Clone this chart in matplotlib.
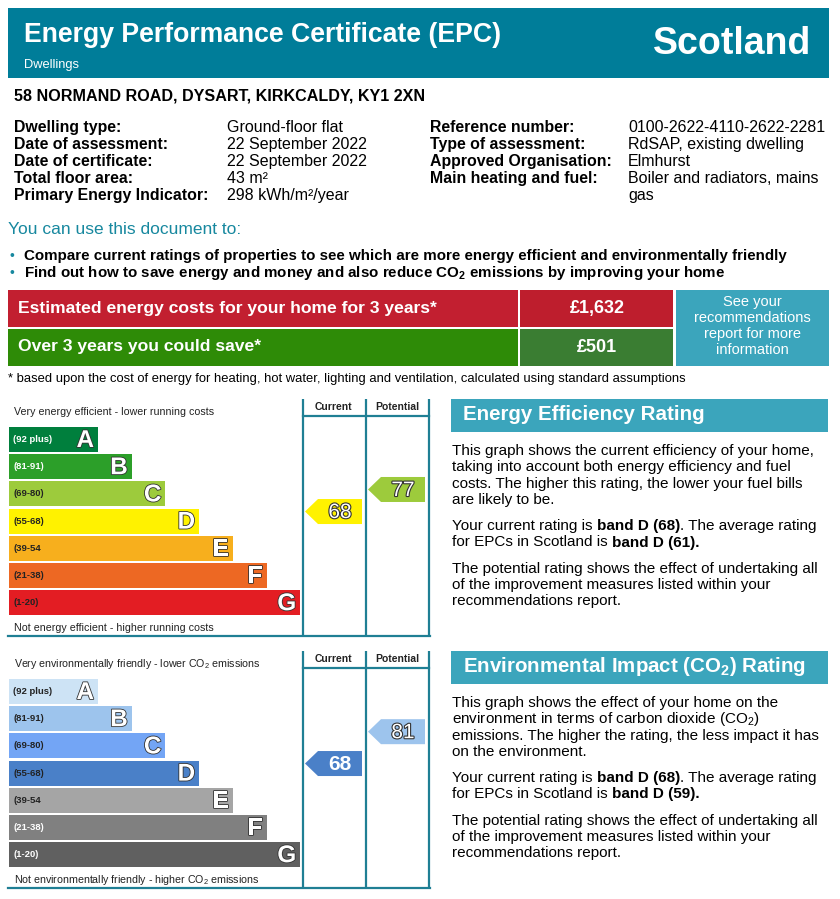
import matplotlib
matplotlib.use('Agg')
import matplotlib.pyplot as plt
from matplotlib.patches import Rectangle, Polygon
import matplotlib.patheffects as pe
from matplotlib import rcParams

rcParams['mathtext.fontset'] = 'custom'
rcParams['mathtext.rm'] = 'Liberation Sans'
rcParams['mathtext.bf'] = 'Liberation Sans:bold'

NARROW = ['Liberation Sans Narrow', 'Liberation Sans', 'DejaVu Sans']
ARIAL = ['Liberation Sans', 'DejaVu Sans']

TEAL = '#007D99'
TEAL_LIGHT = '#3BA5BC'
TEAL_LINE = '#1F7F94'

# ---- data ----
address = '58 NORMAND ROAD, DYSART, KIRKCALDY, KY1 2XN'
info_left_labels = ['Dwelling type:', 'Date of assessment:', 'Date of certificate:',
                    'Total floor area:', 'Primary Energy Indicator:']
info_left_values = ['Ground-floor flat', '22 September 2022', '22 September 2022',
                    '43 m\u00b2', '298 kWh/m\u00b2/year']
info_right_labels = ['Reference number:', 'Type of assessment:', 'Approved Organisation:',
                     'Main heating and fuel:']
info_right_values = ['0100-2622-4110-2622-2281', 'RdSAP, existing dwelling', 'Elmhurst',
                     'Boiler and radiators, mains\ngas']
bullets = ['Compare current ratings of properties to see which are more energy efficient and environmentally friendly',
           r'Find out how to save energy and money and also reduce CO$_\mathbf{2}$ emissions by improving your home']
cost_labels = ['Estimated energy costs for your home for 3 years*', 'Over 3 years you could save*']
cost_values = ['\u00a31,632', '\u00a3501']
see_report = ['See your', 'recommendations', 'report for more', 'information']
footnote = ('* based upon the cost of energy for heating, hot water, lighting and ventilation, '
            'calculated using standard assumptions')

bands = ['A', 'B', 'C', 'D', 'E', 'F', 'G']
band_ranges = ['(92 plus)', '(81-91)', '(69-80)', '(55-68)', '(39-54', '(21-38)', '(1-20)']
band_lower = [92, 81, 69, 55, 39, 21, 1]
ee_colors = ['#007F3D', '#2C9F29', '#9DCB3C', '#FFF200', '#F7AF1D', '#ED6823', '#E31D23']
ee_label_colors = ['white', 'white', '#222222', '#222222', '#222222', '#222222', '#222222']
ei_colors = ['#CDE3F5', '#9DC4ED', '#73A5F5', '#4A80C8', '#A5A5A5', '#808080', '#606060']
ei_label_colors = ['#222222', '#222222', '#222222', '#222222', '#222222', 'white', 'white']

ee_current, ee_potential = 68, 77
ei_current, ei_potential = 68, 81

ee_paras = [
    ['This graph shows the current efficiency of your home,',
     'taking into account both energy efficiency and fuel',
     'costs. The higher this rating, the lower your fuel bills',
     'are likely to be.'],
    [[('Your current rating is ', 'normal'), ('band D (68)', 'bold'), ('. The average rating', 'normal')],
     [('for EPCs in Scotland is ', 'normal'), ('band D (61).', 'bold')]],
    ['The potential rating shows the effect of undertaking all',
     'of the improvement measures listed within your',
     'recommendations report.'],
]
ei_paras = [
    ['This graph shows the effect of your home on the',
     r'environment in terms of carbon dioxide (CO$_2$)',
     'emissions. The higher the rating, the less impact it has',
     'on the environment.'],
    [[('Your current rating is ', 'normal'), ('band D (68)', 'bold'), ('. The average rating', 'normal')],
     [('for EPCs in Scotland is ', 'normal'), ('band D (59).', 'bold')]],
    ['The potential rating shows the effect of undertaking all',
     'of the improvement measures listed within your',
     'recommendations report.'],
]

# ---- canvas in pixel coordinates ----
W, H = 840, 899
fig = plt.figure(figsize=(W / 100, H / 100), dpi=100)
ax = fig.add_axes([0, 0, 1, 1])
ax.set_xlim(0, W)
ax.set_ylim(H, 0)
ax.axis('off')
renderer = fig.canvas.get_renderer()


def txt(x, y, s, size, weight='normal', color='black', ha='left', va='center', family=NARROW, **kw):
    return ax.text(x, y, s, fontsize=size, fontweight=weight, color=color, ha=ha, va=va,
                   family=family, **kw)


def width_of(s, size, weight, family):
    t1 = ax.text(0, 0, 'x' + s + 'x', fontsize=size, fontweight=weight, family=family)
    t2 = ax.text(0, 0, 'xx', fontsize=size, fontweight=weight, family=family)
    w = t1.get_window_extent(renderer).width - t2.get_window_extent(renderer).width
    t1.remove()
    t2.remove()
    return w


def runs(x, y, parts, size, family=ARIAL):
    for s, w in parts:
        txt(x, y, s, size, weight=w, family=family, va='baseline')
        x += width_of(s, size, w, family)


def rect(x0, y0, x1, y1, color, **kw):
    ax.add_patch(Rectangle((x0, y0), x1 - x0, y1 - y0, facecolor=color, edgecolor='none', **kw))


# ---- header ----
rect(8, 8, 829, 78, TEAL)
txt(24, 35, 'Energy Performance Certificate (EPC)', 19.2, 'bold', 'white')
txt(24, 65, 'Dwellings', 9.3, color='white')
txt(811, 44, 'Scotland', 27, 'bold', 'white', ha='right')
txt(14, 96, address, 11.6, 'bold')

row_base = [132, 149, 166, 183, 200]
for i, (lab, val) in enumerate(zip(info_left_labels, info_left_values)):
    txt(14, row_base[i], lab, 11.4, 'bold', va='baseline')
    txt(227, row_base[i], val, 11.5, va='baseline')
for i, (lab, val) in enumerate(zip(info_right_labels, info_right_values)):
    txt(430, row_base[i], lab, 11.4, 'bold', va='baseline')
    for k, part in enumerate(val.split('\n')):
        txt(628, row_base[i] + 17 * k, part, 11.5, va='baseline')

txt(8, 230, 'You can use this document to:', 12.5, color='#17889F')
for i, b in enumerate(bullets):
    y = 256 + 17 * i
    txt(10, y, '\u2022', 10, color='#17889F')
    txt(24, y, b, 10.9, 'bold')

# ---- cost boxes ----
rect(8, 290, 518, 327, '#C21F30')
rect(520, 290, 673, 327, '#BE1E2D')
rect(8, 329, 518, 366, '#2E8B07')
rect(520, 329, 673, 366, '#3A7D32')
rect(676, 290, 829, 366, TEAL_LIGHT)
txt(18, 308, cost_labels[0], 12.6, 'bold', 'white')
txt(18, 347, cost_labels[1], 12.6, 'bold', 'white')
txt(597, 308, cost_values[0], 13, 'bold', 'white', ha='center')
txt(597, 347, cost_values[1], 13, 'bold', 'white', ha='center')
for i, s in enumerate(see_report):
    txt(752, 302 + 16 * i, s, 10.5, color='white', ha='center')
txt(8, 379, footnote, 9.4)

# ---- rating charts ----
letter_outline = [pe.withStroke(linewidth=1.2, foreground='#333333')]
num_outline = [pe.withStroke(linewidth=1.6, foreground='#333333')]


def arrow(x0, x1, top, h, color, value, stroke):
    pts = [(x0, top + h / 2), (x0 + 13, top), (x1, top), (x1, top + h), (x0 + 13, top + h)]
    ax.add_patch(Polygon(pts, closed=True, facecolor=color, edgecolor='none'))
    txt((x0 + 13 + x1) / 2, top + h / 2 + 1, str(value), 15, 'bold' if not stroke else 'normal',
        'white', ha='center', family=ARIAL,
        path_effects=num_outline if stroke else None)


def band_of(value):
    return [i for i in range(len(bands)) if value >= band_lower[i]][0]


def chart(y0, colors, label_colors, top_text, bottom_text, current, potential, stroke_nums):
    # frame
    for x in (303, 366, 429):
        ax.plot([x, x], [y0, y0 + 237], color=TEAL_LINE, lw=1.6, solid_capstyle='butt')
    ax.plot([303, 429], [y0 + 17, y0 + 17], color=TEAL_LINE, lw=1.6)
    ax.plot([8, 430], [y0 + 237, y0 + 237], color=TEAL_LINE, lw=1.6)
    txt(333, y0 + 8, 'Current', 7.5, 'bold', '#222222', ha='center', family=ARIAL)
    txt(397, y0 + 8, 'Potential', 7.5, 'bold', '#222222', ha='center', family=ARIAL)
    txt(14, y0 + 13, top_text, 7.7, family=ARIAL, color='#222222')
    txt(14, y0 + 229, bottom_text, 7.7, family=ARIAL, color='#222222')
    a_top = y0 + 28
    for i, b in enumerate(bands):
        top = a_top + i * 27.2
        right = 98 + i * 33.7
        rect(9, top, right, top + 25, colors[i])
        txt(13, top + 12.5, band_ranges[i], 6.8, 'bold', label_colors[i], family=ARIAL)
        txt(right - 4, top + 13.5, b, 17.5, 'bold', 'white', ha='right', family=ARIAL,
            path_effects=letter_outline)
    arrow(305, 362, a_top + (97.4 - current) * 2.45, 25, colors[band_of(current)],
          current, stroke_nums[0])
    arrow(368, 425, a_top + (97.4 - potential) * 2.45, 25, colors[band_of(potential)],
          potential, stroke_nums[1])


chart(399, ee_colors, ee_label_colors, 'Very energy efficient - lower running costs',
      'Not energy efficient - higher running costs', ee_current, ee_potential, (True, True))
chart(651, ei_colors, ei_label_colors, r'Very environmentally friendly - lower CO$_2$ emissions',
      r'Not environmentally friendly - higher CO$_2$ emissions', ei_current, ei_potential,
      (False, True))


# ---- right-hand descriptions ----
def panel(y0, title, paras):
    rect(451, y0, 828, y0 + 33, TEAL_LIGHT)
    txt(463, y0 + 16, title, 14.8, 'bold', 'white', family=ARIAL)
    y = y0 + 56
    for p in paras:
        for line in p:
            if isinstance(line, str):
                txt(452, y, line, 11, family=ARIAL, va='baseline')
            else:
                runs(452, y, line, 11)
            y += 16.3
        y += 10


panel(399, 'Energy Efficiency Rating', ee_paras)
panel(651, r'Environmental Impact (CO$_\mathbf{2}$) Rating', ei_paras)

fig.savefig('out.png', dpi=100)
